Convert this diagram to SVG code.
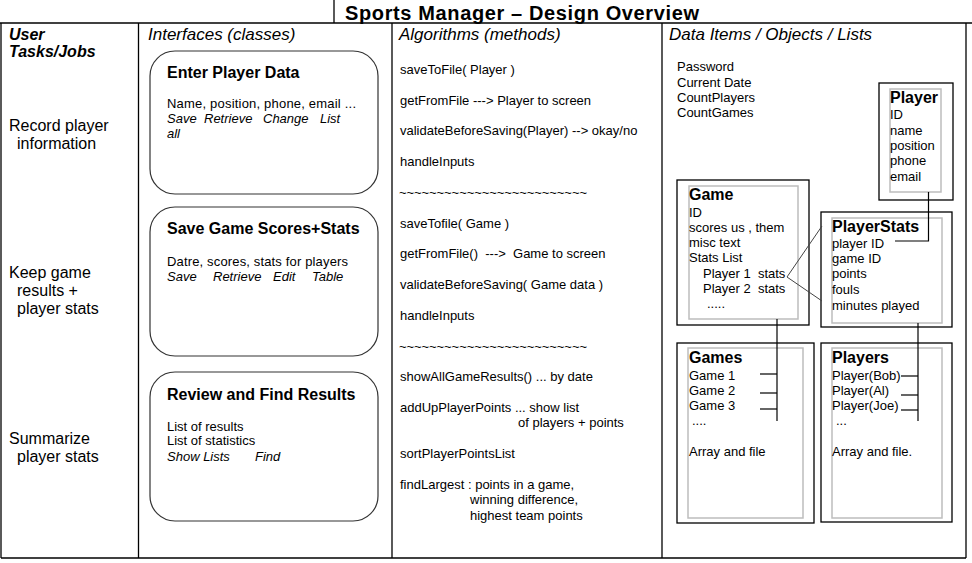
<svg xmlns="http://www.w3.org/2000/svg" width="972" height="563" viewBox="0 0 972 563">
<style>
text{font-family:"Liberation Sans",Arial,sans-serif;font-size:13px;fill:#000}
.h{font-size:17px;font-style:italic}
.hb{font-size:16px;font-style:italic;font-weight:bold}
.ttl{font-size:20px;font-weight:bold}
.b{font-size:16px;font-weight:bold}
.i{font-style:italic}
.l{font-size:16px}
.rbox{fill:#fff;stroke:#333;stroke-width:1.2}
.ob{fill:none;stroke:#000;stroke-width:1.3}
.ib{fill:none;stroke:#bdbdbd;stroke-width:1.5}
.grid{stroke:#000;stroke-width:1.3;fill:none}
.conn{stroke:#000;stroke-width:1.2;fill:none}
.conn2{stroke:#444;stroke-width:1;fill:none}
</style>
<rect width="972" height="563" fill="#fff"/>
<g id="table">
<line class="grid" x1="334" y1="0" x2="334" y2="23"/>
<line class="grid" x1="0" y1="23" x2="972" y2="23"/>
<line class="grid" x1="1" y1="23" x2="1" y2="558"/>
<line class="grid" x1="138.5" y1="23" x2="138.5" y2="558"/>
<line class="grid" x1="392" y1="23" x2="392" y2="558"/>
<line class="grid" x1="662" y1="23" x2="662" y2="558"/>
<line class="grid" x1="966" y1="23" x2="966" y2="558"/>
<line class="grid" x1="1" y1="558" x2="966" y2="558"/>
<text class="ttl" x="345" y="20" textLength="354" lengthAdjust="spacing">Sports Manager – Design Overview</text>
<text class="hb" x="9" y="40">User</text>
<text class="hb" x="9" y="57">Tasks/Jobs</text>
<text class="h" x="148" y="40">Interfaces (classes)</text>
<text class="h" x="399" y="40">Algorithms (methods)</text>
<text class="h" x="669" y="40">Data Items / Objects / Lists</text>
</g>
<g id="tasks">
<text class="l" x="9" y="131">Record player</text>
<text class="l" x="17" y="149">information</text>
<text class="l" x="9" y="278">Keep game</text>
<text class="l" x="17" y="296">results +</text>
<text class="l" x="17" y="314">player stats</text>
<text class="l" x="9" y="444">Summarize</text>
<text class="l" x="17" y="462">player stats</text>
</g>
<g id="enter-player-data">
<rect class="rbox" x="150" y="51" width="228" height="143" rx="25"/>
<text class="b" x="167" y="78">Enter Player Data</text>
<text x="167" y="108" textLength="189" lengthAdjust="spacing">Name, position, phone, email ...</text>
<text class="i" x="167" y="123">Save</text>
<text class="i" x="204" y="123">Retrieve</text>
<text class="i" x="263" y="123">Change</text>
<text class="i" x="320" y="123">List</text>
<text class="i" x="167" y="138">all</text>
</g>
<g id="save-game-scores">
<rect class="rbox" x="150" y="207" width="228" height="149" rx="25"/>
<text class="b" x="167" y="234">Save Game Scores+Stats</text>
<text x="167" y="266" textLength="181" lengthAdjust="spacing">Datre, scores, stats for players</text>
<text class="i" x="167" y="281">Save</text>
<text class="i" x="213" y="281">Retrieve</text>
<text class="i" x="273" y="281">Edit</text>
<text class="i" x="312" y="281">Table</text>
</g>
<g id="review-find-results">
<rect class="rbox" x="150" y="372" width="228" height="149" rx="25"/>
<text class="b" x="167" y="400">Review and Find Results</text>
<text x="167" y="431">List of results</text>
<text x="167" y="445">List of statistics</text>
<text class="i" x="167" y="461">Show Lists</text>
<text class="i" x="255" y="461">Find</text>
</g>
<g id="algorithms">
<text x="400" y="74">saveToFile( Player )</text>
<text x="400" y="105">getFromFile ---&gt; Player to screen</text>
<text x="400" y="135">validateBeforeSaving(Player) --&gt; okay/no</text>
<text x="400" y="166">handleInputs</text>
<text x="399" y="197" textLength="188" lengthAdjust="spacing">~~~~~~~~~~~~~~~~~~~~~~~~~</text>
<text x="400" y="228">saveTofile( Game )</text>
<text x="400" y="258" xml:space="preserve">getFromFile()  ---&gt;  Game to screen</text>
<text x="400" y="289">validateBeforeSaving( Game data )</text>
<text x="400" y="320">handleInputs</text>
<text x="399" y="351" textLength="188" lengthAdjust="spacing">~~~~~~~~~~~~~~~~~~~~~~~~~</text>
<text x="400" y="381">showAllGameResults() ... by date</text>
<text x="400" y="412">addUpPlayerPoints ... show list</text>
<text x="518" y="427">of players + points</text>
<text x="400" y="458">sortPlayerPointsList</text>
<text x="400" y="489">findLargest : points in a game,</text>
<text x="470" y="504">winning difference,</text>
<text x="470" y="520">highest team points</text>
</g>
<g id="data-items">
<text x="677" y="71">Password</text>
<text x="677" y="87">Current Date</text>
<text x="677" y="102">CountPlayers</text>
<text x="677" y="117">CountGames</text>
</g>
<g id="player">
<rect class="ob" x="879" y="83" width="74" height="117"/>
<rect class="ib" x="890" y="89" width="51" height="103"/>
<text class="b" x="890" y="103">Player</text>
<text x="890" y="119">ID</text>
<text x="890" y="135">name</text>
<text x="890" y="150">position</text>
<text x="890" y="165">phone</text>
<text x="890" y="181">email</text>
</g>
<g id="game">
<rect class="ob" x="677" y="180" width="132" height="145"/>
<rect class="ib" x="689" y="186" width="109" height="133"/>
<text class="b" x="689" y="200">Game</text>
<text x="689" y="217">ID</text>
<text x="689" y="232">scores us , them</text>
<text x="689" y="247">misc text</text>
<text x="689" y="262">Stats List</text>
<text x="703" y="278" xml:space="preserve">Player 1  stats</text>
<text x="703" y="293" xml:space="preserve">Player 2  stats</text>
<text x="707" y="308">.....</text>
</g>
<g id="playerstats">
<rect class="ob" x="821" y="212" width="131" height="115"/>
<rect class="ib" x="832" y="218" width="110" height="105"/>
<text class="b" x="832" y="232">PlayerStats</text>
<text x="832" y="248">player ID</text>
<text x="832" y="263">game ID</text>
<text x="832" y="278">points</text>
<text x="832" y="294">fouls</text>
<text x="832" y="310">minutes played</text>
</g>
<g id="games">
<rect class="ob" x="677" y="343" width="137" height="180"/>
<rect class="ib" x="688" y="348" width="115" height="170"/>
<text class="b" x="689" y="363">Games</text>
<text x="689" y="380">Game 1</text>
<text x="689" y="395">Game 2</text>
<text x="689" y="410">Game 3</text>
<text x="692" y="425">....</text>
<text x="689" y="456">Array and file</text>
</g>
<g id="players">
<rect class="ob" x="821" y="343" width="131" height="179"/>
<rect class="ib" x="832" y="348" width="110" height="170"/>
<text class="b" x="832" y="363">Players</text>
<text x="832" y="380">Player(Bob)</text>
<text x="832" y="395">Player(Al)</text>
<text x="832" y="410">Player(Joe)</text>
<text x="836" y="425">...</text>
<text x="832" y="456">Array and file.</text>
</g>
<g id="connectors">
<polyline class="conn" points="928.5,192 928.5,241 895,241"/>
<line class="conn2" x1="787" y1="277" x2="822" y2="226"/>
<line class="conn2" x1="787" y1="277" x2="822" y2="301"/>
<line class="conn" x1="777" y1="319" x2="777" y2="421"/>
<line class="conn" x1="760" y1="374" x2="777" y2="374"/>
<line class="conn" x1="760" y1="393" x2="777" y2="393"/>
<line class="conn" x1="760" y1="409" x2="777" y2="409"/>
<line class="conn" x1="918" y1="323" x2="918" y2="421"/>
<line class="conn" x1="901" y1="376" x2="918" y2="376"/>
<line class="conn" x1="901" y1="395" x2="918" y2="395"/>
<line class="conn" x1="901" y1="410" x2="918" y2="410"/>
</g>
</svg>
